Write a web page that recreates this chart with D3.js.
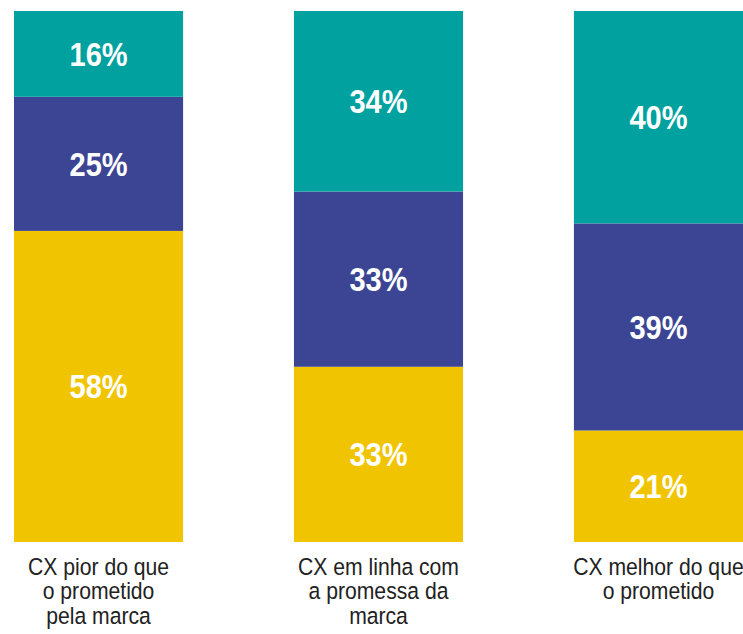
<!DOCTYPE html>
<html>
<head>
<meta charset="utf-8">
<script src="https://cdn.jsdelivr.net/npm/d3@7"></script>
<style>
  body { margin: 0; background: #fff; }
  svg text { font-family: "Liberation Sans", Arial, sans-serif; }
</style>
</head>
<body>
<svg id="chart" width="743" height="634"></svg>
<script>
// data (bottom -> top)
var categories = ["CX pior do que|o prometido|pela marca", "CX em linha com|a promessa da|marca", "CX melhor do que|o prometido"];
var keys = ["yellow", "blue", "teal"];
var yellowVals = [58, 33, 21];
var blueVals = [25, 33, 39];
var tealVals = [16, 34, 40];
var colors = {yellow: "#F0C400", blue: "#3C4594", teal: "#00A19F"};

var svg = d3.select("#chart"),
    margin = {top: 11, right: 0, bottom: 92, left: 14},
    width = +svg.attr("width") - margin.left - margin.right,
    height = +svg.attr("height") - margin.top - margin.bottom;

var rows = categories.map((c, i) => ({cat: c, yellow: yellowVals[i], blue: blueVals[i], teal: tealVals[i]}));

// each bar normalised to its own total
var stack = d3.stack().keys(keys).offset(d3.stackOffsetExpand);
var series = stack(rows);

var x = d3.scaleBand()
    .domain(categories)
    .range([0, width])
    .paddingInner(0.396)
    .paddingOuter(0);

var y = d3.scaleLinear().domain([0, 1]).range([height, 0]);

var g = svg.append("g").attr("transform", "translate(" + margin.left + "," + margin.top + ")");

var layer = g.selectAll("g.layer")
  .data(series)
  .enter().append("g")
    .attr("class", "layer")
    .attr("fill", d => colors[d.key]);

layer.selectAll("rect")
  .data(d => d.map(p => Object.assign(p, {key: d.key})))
  .enter().append("rect")
    .attr("x", d => x(d.data.cat))
    .attr("y", d => y(d[1]))
    .attr("width", x.bandwidth())
    .attr("height", d => y(d[0]) - y(d[1]));

// condensed look: squeeze the text horizontally
layer.selectAll("text")
  .data(d => d)
  .enter().append("text")
    .attr("transform", d => "translate(" + (x(d.data.cat) + x.bandwidth() / 2) + "," + ((y(d[0]) + y(d[1])) / 2) + ") scale(0.88,1)")
    .attr("dy", "0.36em")
    .attr("text-anchor", "middle")
    .attr("fill", "#fff")
    .style("font-size", "33px")
    .style("font-weight", "bold")
    .text(d => d.data[d.key] + "%");

// category labels under bars
var labels = g.selectAll("text.cat")
  .data(categories)
  .enter().append("text")
    .attr("class", "cat")
    .attr("text-anchor", "middle")
    .attr("fill", "#222")
    .style("font-size", "23.5px")
    .attr("transform", d => "translate(" + (x(d) + x.bandwidth() / 2) + "," + (height + 33) + ") scale(0.9,1)");

labels.selectAll("tspan")
  .data(d => d.split("|"))
  .enter().append("tspan")
    .attr("x", 0)
    .attr("y", (d, i) => i * 24.5)
    .text(d => d);
</script>
</body>
</html>
